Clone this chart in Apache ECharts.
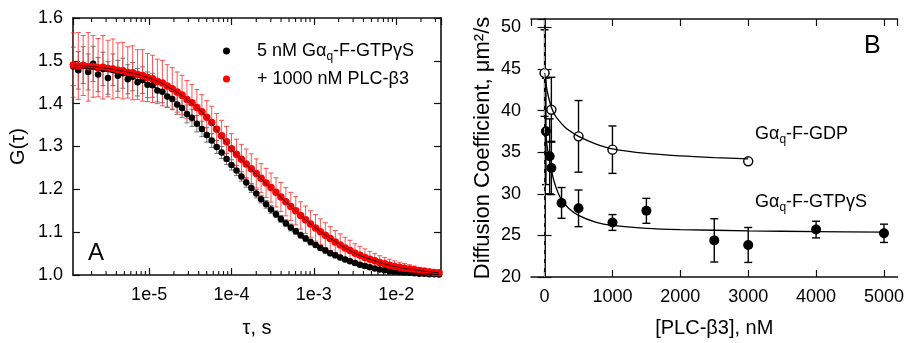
<!DOCTYPE html>
<html><head><meta charset="utf-8">
<script src="https://cdn.jsdelivr.net/npm/echarts@6/dist/echarts.min.js"></script>
<style>html,body{margin:0;padding:0;background:#fff}#c{width:907px;height:343px}</style>
</head><body><div id="c"></div>
<script>
// ---------- Panel A data ----------
const tau = [1.20e-6,1.38e-6,1.58e-6,1.82e-6,2.09e-6,2.40e-6,2.75e-6,3.16e-6,3.63e-6,4.17e-6,
4.79e-6,5.50e-6,6.31e-6,7.24e-6,8.32e-6,9.55e-6,1.10e-5,1.26e-5,1.45e-5,1.66e-5,
1.91e-5,2.19e-5,2.51e-5,2.88e-5,3.31e-5,3.80e-5,4.37e-5,5.01e-5,5.75e-5,6.61e-5,
7.59e-5,8.71e-5,1.00e-4,1.15e-4,1.32e-4,1.51e-4,1.74e-4,2.00e-4,2.29e-4,2.63e-4,
3.02e-4,3.47e-4,3.98e-4,4.57e-4,5.25e-4,6.03e-4,6.92e-4,7.94e-4,9.12e-4,1.05e-3,
1.20e-3,1.38e-3,1.58e-3,1.82e-3,2.09e-3,2.40e-3,2.75e-3,3.16e-3,3.63e-3,4.17e-3,
4.79e-3,5.50e-3,6.31e-3,7.24e-3,8.32e-3,9.55e-3,1.10e-2,1.26e-2,1.45e-2,1.66e-2,
1.91e-2,2.19e-2,2.51e-2,2.88e-2,3.31e-2];
const gBlack = [1.487,1.478,1.490,1.474,1.493,1.468,1.481,1.460,1.479,1.465,
1.471,1.457,1.463,1.450,1.455,1.444,1.443,1.431,1.428,1.417,
1.411,1.398,1.390,1.376,1.367,1.353,1.341,1.327,1.314,1.299,
1.286,1.271,1.257,1.244,1.230,1.216,1.203,1.190,1.177,1.165,
1.153,1.142,1.131,1.121,1.111,1.102,1.093,1.085,1.077,1.070,
1.063,1.057,1.051,1.046,1.041,1.036,1.032,1.028,1.024,1.021,
1.018,1.015,1.013,1.011,1.009,1.008,1.007,1.006,1.005,1.004,
1.003,1.003,1.002,1.002,1.001];
const errBlack = [.045,.044,.043,.042,.041,.040,.039,.038,.037,.036,
.035,.034,.033,.032,.031,.030,.028,.027,.026,.025,
.024,.023,.022,.021,.020,.019,.018,.017,.016,.015,
.014,.013,.012,.012,.011,.011,.010,.010,.009,.009,
.009,.008,.008,.008,.008,.007,.007,.007,.007,.006,
.006,.006,.006,.006,.005,.005,.005,.005,.005,.005,
.004,.004,.004,.004,.004,.004,.004,.003,.003,.003,
.003,.003,.003,.003,.003];
const gRed = [1.490,1.488,1.489,1.486,1.487,1.484,1.485,1.482,1.481,1.478,
1.477,1.473,1.472,1.468,1.466,1.461,1.458,1.452,1.448,1.441,
1.435,1.427,1.420,1.410,1.402,1.391,1.381,1.368,1.356,1.340,
1.325,1.311,1.295,1.282,1.270,1.259,1.248,1.237,1.226,1.215,
1.204,1.193,1.182,1.171,1.160,1.150,1.139,1.129,1.119,1.110,
1.101,1.093,1.085,1.077,1.070,1.063,1.057,1.051,1.046,1.041,
1.037,1.033,1.029,1.026,1.023,1.020,1.018,1.016,1.014,1.012,
1.010,1.009,1.007,1.006,1.005];
const errRed = [.075,.078,.070,.080,.072,.068,.074,.066,.070,.064,
.066,.060,.063,.058,.060,.056,.055,.052,.053,.050,
.049,.047,.046,.044,.043,.042,.040,.039,.038,.037,
.036,.036,.035,.035,.035,.035,.035,.034,.034,.034,
.034,.034,.034,.033,.033,.033,.032,.032,.031,.031,
.030,.029,.028,.027,.026,.025,.024,.022,.021,.020,
.018,.017,.016,.015,.014,.013,.012,.011,.010,.009,
.008,.007,.007,.006,.006];
const tauFit = [1.2e-6,3.16e-6,1e-5,2e-5,3.16e-5,5e-5,1e-4,2e-4,3.16e-4,5e-4,1e-3,2e-3,3.16e-3,5e-3,1e-2,2e-2,3.3e-2];
const fitBlack = [1.485,1.475,1.445,1.407,1.371,1.328,1.258,1.190,1.150,1.115,1.073,1.043,1.028,1.017,1.008,1.003,1.001];
const fitRed = [1.490,1.482,1.460,1.431,1.404,1.368,1.293,1.235,1.199,1.164,1.113,1.073,1.051,1.036,1.019,1.010,1.005];
const minorTicksA = [2e-6,3e-6,4e-6,5e-6,6e-6,7e-6,8e-6,9e-6,
2e-5,3e-5,4e-5,5e-5,6e-5,7e-5,8e-5,9e-5,
2e-4,3e-4,4e-4,5e-4,6e-4,7e-4,8e-4,9e-4,
2e-3,3e-3,4e-3,5e-3,6e-3,7e-3,8e-3,9e-3,
2e-2,3e-2];

// ---------- Panel B data ----------
const gdpConc = [0, 100, 500, 1000, 3000];
const gdpD = [44.5, 40.1, 36.9, 35.3, 33.9];
const gdpErr = [5.2, 3.9, 4.3, 2.85, 0.3];
const gtpConc = [20, 75, 100, 250, 500, 1000, 1500, 2500, 3000, 4000, 5000];
const gtpD = [37.5, 34.5, 33.1, 28.9, 28.25, 26.55, 27.95, 24.4, 23.85, 25.7, 25.25];
const gtpErr = [6.4, 4.5, 3.2, 1.85, 2.2, 0.95, 1.5, 2.6, 2.1, 1.0, 1.1];
const gdpFitX = [0, 25, 50, 100, 150, 200, 300, 400, 500, 750, 1000, 1500, 2000, 2500, 3000];
const gdpFitY = [44.5, 43.0, 41.9, 40.4, 39.5, 38.9, 38.0, 37.4, 36.9, 36.0, 35.4, 34.85, 34.55, 34.35, 34.2];
const gtpFitX = [0, 25, 50, 100, 150, 200, 250, 350, 500, 750, 1000, 1500, 2000, 3000, 4000, 5000];
const gtpFitY = [38.5, 36.5, 35.0, 32.8, 31.2, 30.1, 29.3, 28.3, 27.4, 26.6, 26.2, 25.85, 25.7, 25.55, 25.45, 25.4];

const FONT = 'Arial, "Liberation Sans", sans-serif';
const chart = echarts.init(document.getElementById('c'), null, {renderer: 'canvas'});

const pairs = (xs, ys) => xs.map((x, i) => [x, ys[i]]);
const errItems = (xs, ys, es) => xs.map((x, i) => [x, ys[i] - es[i], ys[i] + es[i]]);

function errBar(cap, color, lw) {
  return function (params, api) {
    const x = api.value(0);
    const p1 = api.coord([x, api.value(1)]);
    const p2 = api.coord([x, api.value(2)]);
    const style = {stroke: color, lineWidth: lw, fill: null};
    return {type: 'group', children: [
      {type: 'line', shape: {x1: p1[0], y1: p1[1], x2: p2[0], y2: p2[1]}, style: style},
      {type: 'line', shape: {x1: p1[0] - cap, y1: p1[1], x2: p1[0] + cap, y2: p1[1]}, style: style},
      {type: 'line', shape: {x1: p2[0] - cap, y1: p2[1], x2: p2[0] + cap, y2: p2[1]}, style: style}
    ]};
  };
}

const axLine = {show: true, lineStyle: {color: '#111', width: 1.6}};
const tickIn = {show: true, inside: true, length: 7, lineStyle: {color: '#111', width: 1.2}};
const lbl = {fontSize: 18, color: '#000', fontFamily: FONT};
const nameStyle = {fontSize: 20, color: '#000', fontFamily: FONT};

const option = {
  animation: false,
  backgroundColor: '#fff',
  grid: [
    {left: 73, top: 18, width: 368, height: 257},
    {left: 531, top: 19, width: 370, height: 259}
  ],
  xAxis: [
    {type: 'log', gridIndex: 0, logBase: 10, min: 1.19e-6, max: 3.5e-2,
     axisLine: axLine, axisTick: tickIn, splitLine: {show: false},
     axisLabel: Object.assign({margin: 11, showMinLabel: false, showMaxLabel: false,
       formatter: v => '1e' + Math.round(Math.log10(v))}, lbl),
     name: 'τ, s', nameLocation: 'middle', nameGap: 43, nameTextStyle: nameStyle},
    {type: 'log', gridIndex: 0, logBase: 10, min: 1.19e-6, max: 3.5e-2, position: 'top',
     axisLine: axLine, axisTick: tickIn, splitLine: {show: false}, axisLabel: {show: false}},
    {type: 'value', gridIndex: 1, min: -200, max: 5200, splitNumber: 5,
     axisLine: axLine, axisTick: tickIn, splitLine: {show: false},
     axisLabel: Object.assign({margin: 11, showMinLabel: false, showMaxLabel: false,
       formatter: v => String(Math.round(v))}, lbl),
     name: '[PLC-β3], nM', nameLocation: 'middle', nameGap: 41, nameTextStyle: nameStyle},
    {type: 'value', gridIndex: 1, min: -200, max: 5200, splitNumber: 5, position: 'top',
     axisLine: axLine, axisTick: tickIn, splitLine: {show: false}, axisLabel: {show: false}}
  ],
  yAxis: [
    {type: 'value', gridIndex: 0, min: 1.0, max: 1.6, interval: 0.1,
     axisLine: axLine, axisTick: tickIn, splitLine: {show: false},
     axisLabel: Object.assign({margin: 10, formatter: v => v.toFixed(1)}, lbl),
     name: 'G(τ)', nameLocation: 'middle', nameGap: 45, nameTextStyle: nameStyle},
    {type: 'value', gridIndex: 0, min: 1.0, max: 1.6, interval: 0.1, position: 'right',
     axisLine: axLine, axisTick: tickIn, splitLine: {show: false}, axisLabel: {show: false}},
    {type: 'value', gridIndex: 1, min: 20, max: 51, interval: 5,
     axisLine: axLine, axisTick: tickIn, splitLine: {show: false},
     axisLabel: Object.assign({margin: 10, showMaxLabel: false}, lbl),
     name: 'Diffusion Coefficient, μm²/s', nameLocation: 'middle', nameGap: 37,
     nameTextStyle: {fontSize: 22, color: '#000', fontFamily: FONT}},
    {type: 'value', gridIndex: 1, min: 20, max: 51, interval: 5, position: 'right',
     axisLine: axLine, axisTick: tickIn, splitLine: {show: false}, axisLabel: {show: false}}
  ],
  legend: {
    orient: 'vertical', left: 218, top: 37, itemWidth: 7, itemHeight: 7, itemGap: 7,
    selectedMode: false, icon: 'circle',
    data: ['5 nM Gαq-F-GTPγS', '+ 1000 nM PLC-β3'],
    formatter: n => n.indexOf('GTP') >= 0 ? '{g| }{t|5 nM Gα}{s|q}{t|-F-GTPγS}' : '{g| }{t|+ 1000 nM PLC-β3}',
    textStyle: {rich: {
      g: {width: 22},
      t: {fontSize: 18, fontFamily: FONT, color: '#000'},
      s: {fontSize: 12, fontFamily: FONT, color: '#000', padding: [12, 0, 0, 0]}
    }}
  },
  series: [
    {type: 'custom', name: 'errB', xAxisIndex: 0, yAxisIndex: 0, silent: true,
     renderItem: errBar(2.5, '#555', 0.8), encode: {x: 0, y: [1, 2]},
     data: errItems(tau, gBlack, errBlack)},
    {type: 'scatter', name: '5 nM Gαq-F-GTPγS', xAxisIndex: 0, yAxisIndex: 0,
     symbolSize: 6.5, itemStyle: {color: '#000', opacity: 1}, data: pairs(tau, gBlack)},
    {type: 'custom', name: 'errR', xAxisIndex: 0, yAxisIndex: 0, silent: true,
     renderItem: errBar(2.5, '#ff2a2a', 0.8), encode: {x: 0, y: [1, 2]},
     data: errItems(tau, gRed, errRed)},
    {type: 'scatter', name: '+ 1000 nM PLC-β3', xAxisIndex: 0, yAxisIndex: 0,
     symbolSize: 7.5, itemStyle: {color: '#ff0000', opacity: 1}, data: pairs(tau, gRed)},
    {type: 'line', xAxisIndex: 0, yAxisIndex: 0, smooth: 0.4, showSymbol: false, silent: true,
     lineStyle: {color: '#000', width: 1}, data: pairs(tauFit, fitBlack)},
    {type: 'line', xAxisIndex: 0, yAxisIndex: 0, smooth: 0.4, showSymbol: false, silent: true,
     lineStyle: {color: '#300', width: 1}, data: pairs(tauFit, fitRed)},
    {type: 'custom', xAxisIndex: 0, yAxisIndex: 0, silent: true, clip: false,
     encode: {x: 0, y: 1},
     data: minorTicksA.map(v => [v, 1.3]),
     renderItem: function (params, api) {
       const pb = api.coord([api.value(0), 1.0]);
       const pt = api.coord([api.value(0), 1.6]);
       const st = {stroke: '#111', lineWidth: 1.1};
       return {type: 'group', children: [
         {type: 'line', shape: {x1: pb[0], y1: pb[1], x2: pb[0], y2: pb[1] - 4}, style: st},
         {type: 'line', shape: {x1: pt[0], y1: pt[1], x2: pt[0], y2: pt[1] + 4}, style: st}
       ]};
     }},
    // Panel B
    {type: 'custom', xAxisIndex: 2, yAxisIndex: 2, silent: true,
     renderItem: errBar(4, '#000', 1.4), encode: {x: 0, y: [1, 2]},
     data: errItems(gdpConc, gdpD, gdpErr)},
    {type: 'custom', xAxisIndex: 2, yAxisIndex: 2, silent: true,
     renderItem: errBar(4, '#000', 1.4), encode: {x: 0, y: [1, 2]},
     data: errItems(gtpConc, gtpD, gtpErr)},
    {type: 'line', xAxisIndex: 2, yAxisIndex: 2, smooth: 0.3, showSymbol: false, silent: true,
     lineStyle: {color: '#000', width: 1.3}, data: pairs(gdpFitX, gdpFitY)},
    {type: 'line', xAxisIndex: 2, yAxisIndex: 2, smooth: 0.3, showSymbol: false, silent: true,
     lineStyle: {color: '#000', width: 1.3}, data: pairs(gtpFitX, gtpFitY),
     markLine: {silent: true, symbol: 'none', label: {show: false},
       lineStyle: {type: [5, 4], color: '#999', width: 1}, data: [{xAxis: 0}]}},
    {type: 'scatter', xAxisIndex: 2, yAxisIndex: 2, symbolSize: 9,
     itemStyle: {color: '#fff', borderColor: '#000', borderWidth: 1.4, opacity: 1}, data: pairs(gdpConc, gdpD)},
    {type: 'scatter', xAxisIndex: 2, yAxisIndex: 2, symbolSize: 10,
     itemStyle: {color: '#000', opacity: 1}, data: pairs(gtpConc, gtpD)}
  ],
  graphic: [
    {type: 'text', left: 88, top: 241, style: {text: 'A', font: '24px ' + FONT, fill: '#000'}},
    {type: 'text', left: 864, top: 34, style: {text: 'B', font: '25px ' + FONT, fill: '#000'}},
    {type: 'text', left: 755, top: 125, style: {text: '{t|Gα}{s|q}{t|-F-GDP}', rich: {
      t: {fontSize: 18, fontFamily: FONT, fill: '#000'},
      s: {fontSize: 12, fontFamily: FONT, fill: '#000', padding: [12, 0, 0, 0]}}}},
    {type: 'text', left: 755, top: 193, style: {text: '{t|Gα}{s|q}{t|-F-GTPγS}', rich: {
      t: {fontSize: 18, fontFamily: FONT, fill: '#000'},
      s: {fontSize: 12, fontFamily: FONT, fill: '#000', padding: [12, 0, 0, 0]}}}}
  ]
};
chart.setOption(option);
</script>
</body></html>
